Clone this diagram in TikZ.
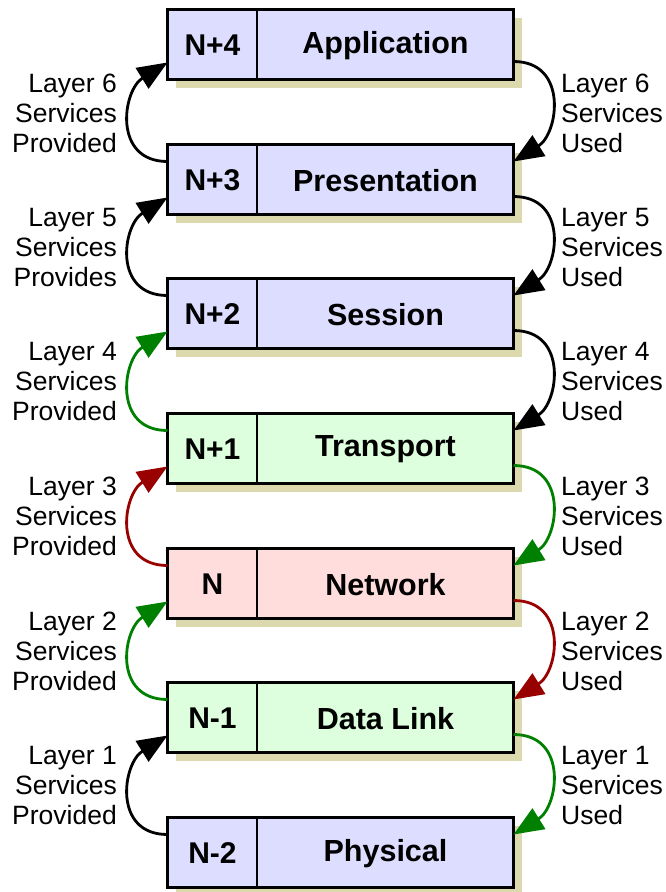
\documentclass[tikz,border=0pt]{standalone}
\usepackage{fontspec}
\setmainfont{Liberation Sans}
\usetikzlibrary{arrows.meta,calc,shadows}
\definecolor{lav}{RGB}{221,221,255}
\definecolor{mint}{RGB}{221,255,221}
\definecolor{rose}{RGB}{255,221,221}
\definecolor{shad}{RGB}{220,217,175}
\definecolor{grn}{RGB}{0,128,0}
\definecolor{dred}{RGB}{153,0,0}
\begin{document}
\begin{tikzpicture}[x=1pt,y=-1pt,
  layerbox/.style={draw, line width=3.5pt, minimum width=346pt, minimum height=70pt,
    inner sep=0pt, outer sep=0pt,
    general shadow={fill=shad, shadow xshift=8pt, shadow yshift=-8pt}},
  numtxt/.style={font=\fontsize{30}{30}\selectfont\bfseries, inner sep=0pt},
  nametxt/.style={font=\fontsize{30.5}{30}\selectfont\bfseries, inner sep=0pt},
  divline/.style={line width=1.5pt},
  arr/.style={line width=2.8pt, -{Triangle[length=30pt,width=24pt]}},
  lblL/.style={font=\fontsize{26.5}{30}\selectfont, align=right, anchor=east, inner sep=0pt},
  lblR/.style={font=\fontsize{26.5}{30}\selectfont, align=left, anchor=west, inner sep=0pt}
]
\useasboundingbox (0,0) rectangle (666,892);

% boxes
\node[layerbox, fill=lav]  (app)  at (340.5, 44.5)  {};
\node[layerbox, fill=lav]  (pres) at (340.5, 179.5) {};
\node[layerbox, fill=lav]  (sess) at (340.5, 313.5) {};
\node[layerbox, fill=mint] (tran) at (340.5, 448.5) {};
\node[layerbox, fill=rose] (netw) at (340.5, 583.5) {};
\node[layerbox, fill=mint] (dlnk) at (340.5, 717.5) {};
\node[layerbox, fill=lav]  (phys) at (340.5, 852.5) {};

\foreach \b/\n/\t in {app/N+4/Application, pres/N+3/Presentation, sess/N+2/Session,
    tran/N+1/Transport, netw/N/Network, dlnk/N-1/Data Link, phys/N-2/Physical}{
  \draw[divline] ($(\b.north west)+(89.5,0)$) coordinate (\b-dt) -- ($(\b.south west)+(89.5,0)$) coordinate (\b-db);
  \node[numtxt] (\b-num) at ($(\b.west)+(45,1)$) {\n};
  \node[nametxt] (\b-name) at ($(\b.west)+(218,1)$) {\t};
}

% left arrows (provided)
\draw[arr] ($(pres.north west)+(0,17)$) .. controls +(-55,0) and +(-45,28) .. ($(app.south west)+(0,-17)$);
\draw[arr] ($(sess.north west)+(0,17)$) .. controls +(-55,0) and +(-45,28) .. ($(pres.south west)+(0,-17)$);
\draw[arr, grn] ($(tran.north west)+(0,17)$) .. controls +(-55,0) and +(-45,28) .. ($(sess.south west)+(0,-17)$);
\draw[arr, dred] ($(netw.north west)+(0,17)$) .. controls +(-55,0) and +(-45,28) .. ($(tran.south west)+(0,-17)$);
\draw[arr, grn] ($(dlnk.north west)+(0,17)$) .. controls +(-55,0) and +(-45,28) .. ($(netw.south west)+(0,-17)$);
\draw[arr] ($(phys.north west)+(0,17)$) .. controls +(-55,0) and +(-45,28) .. ($(dlnk.south west)+(0,-17)$);

% right arrows (used)
\draw[arr] ($(app.south east)+(0,-18)$) .. controls +(55,0) and +(45,-28) .. ($(pres.north east)+(0,17)$);
\draw[arr] ($(pres.south east)+(0,-18)$) .. controls +(55,0) and +(45,-28) .. ($(sess.north east)+(0,17)$);
\draw[arr] ($(sess.south east)+(0,-18)$) .. controls +(55,0) and +(45,-28) .. ($(tran.north east)+(0,17)$);
\draw[arr, grn] ($(tran.south east)+(0,-18)$) .. controls +(55,0) and +(45,-28) .. ($(netw.north east)+(0,17)$);
\draw[arr, dred] ($(netw.south east)+(0,-18)$) .. controls +(55,0) and +(45,-28) .. ($(dlnk.north east)+(0,17)$);
\draw[arr, grn] ($(dlnk.south east)+(0,-18)$) .. controls +(55,0) and +(45,-28) .. ($(phys.north east)+(0,17)$);

% labels
\node[lblL] (l6) at (117,113)   {Layer 6\\Services\\Provided};
\node[lblL] (l5) at (117,247.5) {Layer 5\\Services\\Provides};
\node[lblL] (l4) at (117,382)   {Layer 4\\Services\\Provided};
\node[lblL] (l3) at (117,516.5) {Layer 3\\Services\\Provided};
\node[lblL] (l2) at (117,651.5) {Layer 2\\Services\\Provided};
\node[lblL] (l1) at (117,785.5) {Layer 1\\Services\\Provided};

\node[lblR] (r6) at (561,113)   {Layer 6\\Services\\Used};
\node[lblR] (r5) at (561,247.5) {Layer 5\\Services\\Used};
\node[lblR] (r4) at (561,382)   {Layer 4\\Services\\Used};
\node[lblR] (r3) at (561,516.5) {Layer 3\\Services\\Used};
\node[lblR] (r2) at (561,651.5) {Layer 2\\Services\\Used};
\node[lblR] (r1) at (561,785.5) {Layer 1\\Services\\Used};
\end{tikzpicture}
\end{document}
